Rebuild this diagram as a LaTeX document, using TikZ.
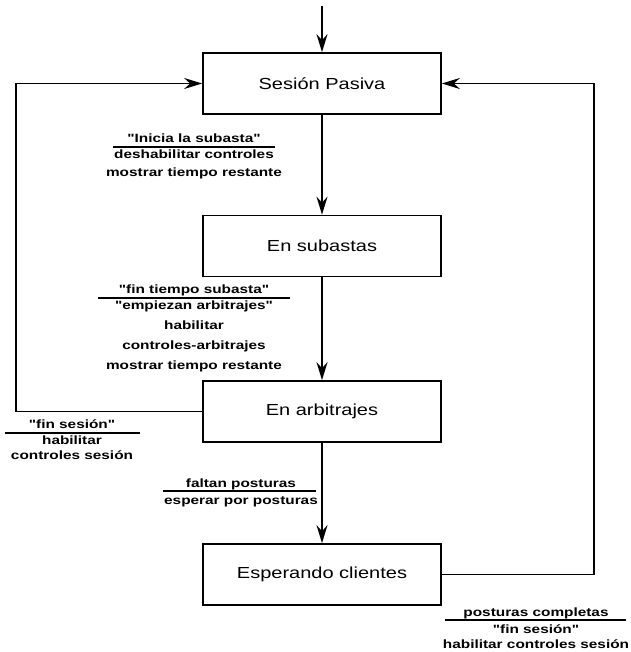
\documentclass[tikz,border=0pt]{standalone}
\usepackage{fontspec}
\usetikzlibrary{arrows.meta}
\newfontfamily\boxfont[FakeStretch=1.25]{Liberation Sans}
\newfontfamily\labfont[FakeStretch=1.28]{Liberation Sans}

\tikzset{
  state/.style={draw, line width=1.7pt, minimum width=238pt, minimum height=61pt,
                inner sep=0pt, font=\boxfont\fontsize{16pt}{19pt}\selectfont},
  flow/.style={line width=1.5pt, -{Stealth[length=18pt,width=11pt,inset=6pt]}},
  loop/.style={line width=1.5pt},
  lab/.style={inner sep=0pt, anchor=base, font=\labfont\bfseries\fontsize{12pt}{14pt}\selectfont},
  rulebar/.style={line width=1.3pt}
}

\begin{document}
\begin{tikzpicture}[x=1pt,y=-1pt]
  \useasboundingbox (0,0) rectangle (630,652);

  % states
  \node[state] (pasiva)    at (322,83.5)  {Sesión Pasiva};
  \node[state] (subastas)  at (322,246)   {En subastas};
  \node[state] (arbitraje) at (322,411.5) {En arbitrajes};
  \node[state] (esperando) at (322,574.5) {Esperando clientes};

  % initial transition
  \coordinate (inicio) at (322,6);
  \draw[flow] (inicio) -- (pasiva.north);

  % main sequence
  \draw[flow] (pasiva) -- (subastas);
  \draw[flow] (subastas) -- (arbitraje);
  \draw[flow] (arbitraje) -- (esperando);

  % return loops to the passive session
  \coordinate (izqAbajo) at (16,411.5);
  \coordinate (izqArriba) at (16,83.5);
  \draw[loop] (arbitraje.west) -- (izqAbajo) -- (izqArriba);
  \draw[flow] (izqArriba) -- (pasiva.west);

  \coordinate (derAbajo) at (594,574.5);
  \coordinate (derArriba) at (594,83.5);
  \draw[loop] (esperando.east) -- (derAbajo) -- (derArriba);
  \draw[flow] (derArriba) -- (pasiva.east);

  % label: pasiva -> subastas
  \node[lab] (e1a) at (194,143) {"Inicia la subasta"};
  \coordinate (r1a) at (113,147);
  \coordinate (r1b) at (275,147);
  \draw[rulebar] (r1a) -- (r1b);
  \node[lab] (e1b) at (194,159) {deshabilitar controles};
  \node[lab] (e1c) at (194,177) {mostrar tiempo restante};

  % label: subastas -> arbitrajes
  \node[lab] (e2a) at (194,293) {"fin tiempo subasta"};
  \coordinate (r2a) at (98,298);
  \coordinate (r2b) at (290,298);
  \draw[rulebar] (r2a) -- (r2b);
  \node[lab] (e2b) at (194,309) {"empiezan arbitrajes"};
  \node[lab] (e2c) at (194,329) {habilitar};
  \node[lab] (e2d) at (194,349) {controles-arbitrajes};
  \node[lab] (e2e) at (194,369) {mostrar tiempo restante};

  % label: arbitrajes -> pasiva
  \node[lab] (e3a) at (72,428) {"fin sesión"};
  \coordinate (r3a) at (5,433);
  \coordinate (r3b) at (140,433);
  \draw[rulebar] (r3a) -- (r3b);
  \node[lab] (e3b) at (72,444) {habilitar};
  \node[lab] (e3c) at (72,459) {controles sesión};

  % label: arbitrajes -> esperando
  \node[lab] (e4a) at (241,487) {faltan posturas};
  \coordinate (r4a) at (163,491);
  \coordinate (r4b) at (316,491);
  \draw[rulebar] (r4a) -- (r4b);
  \node[lab] (e4b) at (241,504) {esperar por posturas};

  % label: esperando -> pasiva
  \node[lab] (e5a) at (536,616) {posturas completas};
  \coordinate (r5a) at (445,620);
  \coordinate (r5b) at (626,620);
  \draw[rulebar] (r5a) -- (r5b);
  \node[lab] (e5b) at (536,633) {"fin sesión"};
  \node[lab] (e5c) at (536,648) {habilitar controles sesión};
\end{tikzpicture}
\end{document}
